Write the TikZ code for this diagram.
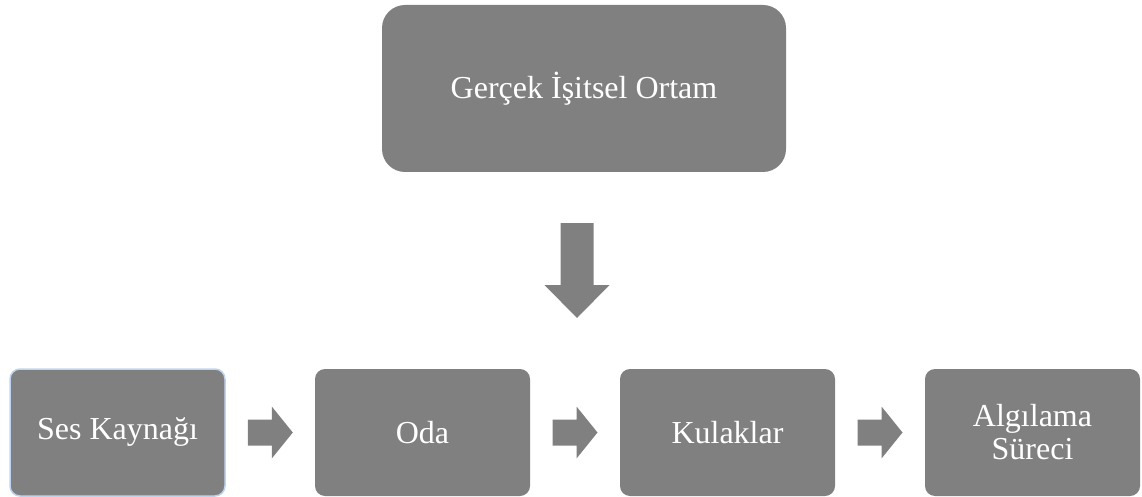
\documentclass[tikz,border=0pt]{standalone}
\usepackage{fontspec}
\setmainfont{Liberation Serif}
\usetikzlibrary{calc}
\definecolor{boxgray}{RGB}{128,128,128}
\definecolor{selblue}{RGB}{190,212,238}
\tikzset{
  topbox/.style={fill=boxgray, rounded corners=23pt, minimum width=404pt, minimum height=167pt,
    text=white, font=\fontsize{32}{33}\selectfont, inner sep=0pt, align=center},
  rowbox/.style={fill=boxgray, rounded corners=10pt, minimum width=215pt, minimum height=127pt,
    text=white, font=\fontsize{32}{33}\selectfont, inner sep=0pt, align=center},
  selbox/.style={draw=selblue, line width=1.5pt},
  rarrow/.pic={\fill[boxgray] (-22.5,-13) -- (1.5,-13) -- (1.5,-26) -- (22.5,0) -- (1.5,26) -- (1.5,13) -- (-22.5,13) -- cycle;},
  darrow/.pic={\fill[boxgray] (-16.5,-47.5) -- (16.5,-47.5) -- (16.5,14.5) -- (32.5,14.5) -- (0,47.5) -- (-32.5,14.5) -- (-16.5,14.5) -- cycle;}
}
\begin{document}
\begin{tikzpicture}[x=1pt,y=-1pt]
\useasboundingbox (0,0) rectangle (1142,497);
\node[topbox] (top) at (584,88.5) {Gerçek İşitsel Ortam};
\node[rowbox,selbox] (b1) at (117.5,432.5) {Ses Kaynağı};
\node[rowbox] (b2) at (422.5,432.5) {Oda};
\node[rowbox] (b3) at (727.5,432.5) {Kulaklar};
\node[rowbox] (b4) at (1032.5,432.5) {Algılama\\Süreci};
\coordinate (dmid) at ($(top.south)!0.5!(b2.north -| top.south)$);
\pic at (577,0 |- dmid) {darrow};
\pic at ($(b1.east)!0.5!(b2.west)$) {rarrow};
\pic at ($(b2.east)!0.5!(b3.west)$) {rarrow};
\pic at ($(b3.east)!0.5!(b4.west)$) {rarrow};
\end{tikzpicture}
\end{document}
